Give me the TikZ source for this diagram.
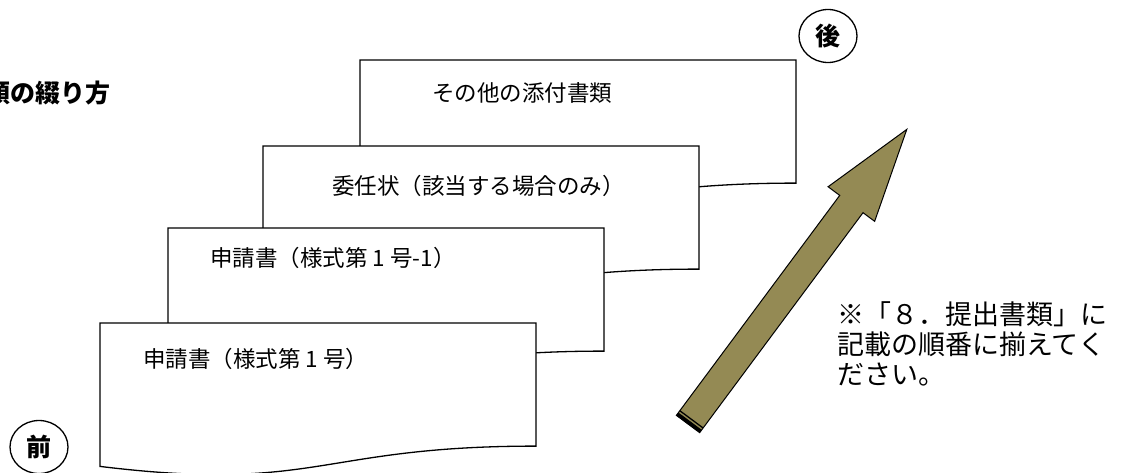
\documentclass[tikz,border=0pt]{standalone}
\usepackage{fontspec}
\setmainfont{Noto Sans CJK JP}
\usetikzlibrary{shapes.geometric}
\definecolor{arrowolive}{HTML}{948A54}
\newcommand\mydocpage[2]{%
  \draw[docline] (#1,#2) -- ({#1+436},#2) -- ({#1+436},{#2+123.1})
    .. controls ({#1+218},{#2+123.1}) and ({#1+218},{#2+170}) .. (#1,{#2+143.4}) -- cycle;}
\begin{document}
\begin{tikzpicture}[x=1pt,y=-1pt,
  docline/.style={draw=black, fill=white, line width=1.3pt, line join=miter},
  doctext/.style={anchor=west, inner sep=0pt, font=\fontsize{22.5}{27}\selectfont},
  notetext/.style={anchor=west, inner sep=0pt, font=\fontsize{27}{31}\selectfont},
  marker/.style={draw, ellipse, line width=1.3pt, minimum width=58pt, minimum height=53pt, inner sep=0pt, font=\fontsize{25}{29}\selectfont\bfseries}]
\useasboundingbox (0,0) rectangle (1121,472);
% title (cut at the left edge, as in the reference)
\node[anchor=east, inner sep=0pt, font=\fontsize{25}{29}\selectfont\bfseries] (title) at (111,93.5) {類の綴り方};
% stacked documents, back to front
\mydocpage{360}{60}
\node[doctext] (d1) at (432,93) {その他の添付書類};
\mydocpage{263}{146}
\node[doctext] (d2) at (332,186) {委任状（該当する場合のみ）};
\mydocpage{168}{228}
\node[doctext] (d3) at (210,258) {申請書（様式第 1 号-1）};
\mydocpage{100}{323}
\node[doctext] (d4) at (143,359) {申請書（様式第 1 号）};
% markers
\node[marker] (back) at (828,36) {後};
\node[marker] (front) at (39,447) {前};
% block arrow
\begin{scope}[shift={(688,424)}, rotate=53.4]
  \draw[fill=arrowolive, line width=1pt, line join=miter]
    (0,-14.5) -- (274,-14.5) -- (274,-29) -- (367,0) -- (274,29) -- (274,14.5) -- (0,14.5) -- cycle;
  \fill[black] (0,-14.5) rectangle (3.5,14.5);
  \draw[line width=1.3pt] (5.8,-14.5) -- (5.8,14.5);
\end{scope}
% note
\node[notetext] (n1) at (837,314) {※「８．提出書類」に};
\node[notetext] (n2) at (837,344.5) {記載の順番に揃えてく};
\node[notetext] (n3) at (837,375) {ださい。};
\end{tikzpicture}
\end{document}
